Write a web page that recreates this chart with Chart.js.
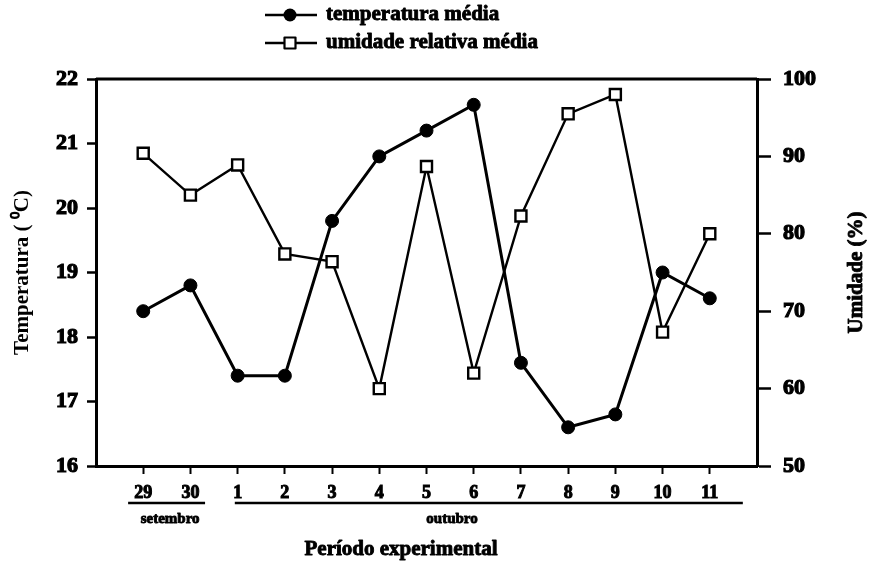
<!DOCTYPE html>
<html>
<head>
<meta charset="utf-8">
<script src="https://cdn.jsdelivr.net/npm/chart.js@4.4.1/dist/chart.umd.min.js"></script>
<style>
  html, body { margin: 0; padding: 0; background: #fff; }
  #wrap { width: 877px; height: 565px; }
</style>
</head>
<body>
<div id="wrap"><canvas id="grafico"></canvas></div>
<script>
// dias do período experimental (29-30 set, 1-11 out)
const dias = ['29', '30', '1', '2', '3', '4', '5', '6', '7', '8', '9', '10', '11'];
const temperatura = [18.4, 18.8, 17.4, 17.4, 19.8, 20.8, 21.2, 21.6, 17.6, 16.6, 16.8, 19.0, 18.6];
const umidade = [90.4, 85, 88.9, 77.4, 76.4, 60, 88.7, 62, 82.3, 95.5, 98, 67.3, 80];
const ticksTemp = [16, 17, 18, 19, 20, 21, 22];
const ticksUmid = [50, 60, 70, 80, 90, 100];

const serif = '"Liberation Serif", "Times New Roman", serif';
const fonte = (px) => 'bold ' + px + 'px ' + serif;

// texto em negrito reforçado (preenchimento + contorno fino)
function texto(ctx, s, x, y, contorno) {
  ctx.lineWidth = contorno;
  ctx.strokeText(s, x, y);
  ctx.fillText(s, x, y);
}

// legenda, título do eixo direito, meses e título do eixo x
const extras = {
  id: 'extras',
  afterDraw(chart) {
    const { ctx, chartArea: a, scales } = chart;
    const x = scales.x;
    ctx.save();
    ctx.strokeStyle = '#000';
    ctx.fillStyle = '#000';
    ctx.lineJoin = 'round';

    // borda superior
    ctx.lineWidth = 3;
    ctx.beginPath();
    ctx.moveTo(a.left, a.top);
    ctx.lineTo(a.right, a.top);
    ctx.stroke();

    // legenda
    const linhas = [
      { y: 15, txt: 'temperatura média', tipo: 'circulo' },
      { y: 43, txt: 'umidade relativa média', tipo: 'quadrado' }
    ];
    linhas.forEach(l => {
      ctx.lineWidth = 2.5;
      ctx.beginPath();
      ctx.moveTo(265, l.y);
      ctx.lineTo(317, l.y);
      ctx.stroke();
      if (l.tipo === 'circulo') {
        ctx.beginPath();
        ctx.arc(290, l.y, 6.5, 0, Math.PI * 2);
        ctx.fill();
      } else {
        ctx.fillStyle = '#fff';
        ctx.fillRect(284.5, l.y - 5.5, 11, 11);
        ctx.fillStyle = '#000';
        ctx.lineWidth = 2.2;
        ctx.strokeRect(284.5, l.y - 5.5, 11, 11);
      }
      ctx.font = fonte(21);
      ctx.textAlign = 'left';
      ctx.textBaseline = 'middle';
      texto(ctx, l.txt, 326, l.y, 0.9);
    });

    // título do eixo direito
    ctx.save();
    ctx.translate(857, (a.top + a.bottom) / 2);
    ctx.rotate(-Math.PI / 2);
    ctx.font = fonte(21);
    ctx.textAlign = 'center';
    ctx.textBaseline = 'middle';
    texto(ctx, 'Umidade (%)', 0, 0, 0.9);
    ctx.restore();

    // agrupamento por mês
    const meses = [
      { de: 0.68, ate: 2.31, meio: 1.57, nome: 'setembro' },
      { de: 2.94, ate: 13.7, meio: 7.54, nome: 'outubro' }
    ];
    meses.forEach(m => {
      ctx.lineWidth = 2.5;
      ctx.beginPath();
      ctx.moveTo(x.getPixelForValue(m.de), 503);
      ctx.lineTo(x.getPixelForValue(m.ate), 503);
      ctx.stroke();
      ctx.font = fonte(15);
      ctx.textAlign = 'center';
      ctx.textBaseline = 'middle';
      texto(ctx, m.nome, x.getPixelForValue(m.meio), 519, 0.9);
    });

    // título do eixo x
    ctx.font = fonte(21);
    texto(ctx, 'Período experimental', 401, 550, 0.9);
    ctx.restore();
  }
};

const fonteTicks = (px) => ({ family: serif, size: px, weight: 'bold' });

new Chart(document.getElementById('grafico'), {
  type: 'line',
  data: {
    datasets: [{
      label: 'temperatura média',
      data: temperatura.map((v, i) => ({ x: i + 1, y: v })),
      yAxisID: 'y',
      borderColor: '#000',
      backgroundColor: '#000',
      borderWidth: 3,
      pointStyle: 'circle',
      pointRadius: 6.5,
      pointBorderWidth: 1,
      tension: 0
    }, {
      label: 'umidade relativa média',
      data: umidade.map((v, i) => ({ x: i + 1, y: v })),
      yAxisID: 'y1',
      borderColor: '#000',
      backgroundColor: '#fff',
      borderWidth: 2.4,
      pointStyle: 'rect',
      pointRadius: 7.8,
      pointBorderWidth: 2.4,
      tension: 0
    }]
  },
  options: {
    responsive: true,
    maintainAspectRatio: false,
    animation: false,
    layout: { padding: { top: 79, left: 0, right: 0, bottom: 0 } },
    plugins: { legend: { display: false }, tooltip: { enabled: false } },
    scales: {
      x: {
        type: 'linear',
        min: 0,
        max: 14,
        afterBuildTicks: s => { s.ticks = dias.map((d, i) => ({ value: i + 1 })); },
        afterFit: s => { s.height = 99; },
        ticks: {
          callback: v => dias[v - 1] || '',
          color: '#000',
          textStrokeColor: '#000',
          textStrokeWidth: 1,
          font: fonteTicks(18),
          padding: 9,
          maxRotation: 0,
          autoSkip: false
        },
        grid: { drawOnChartArea: false, drawTicks: true, tickLength: 8, tickWidth: 2, tickColor: '#000' },
        border: { display: true, color: '#000', width: 3 }
      },
      y: {
        position: 'left',
        min: 16,
        max: 22,
        afterBuildTicks: s => { s.ticks = ticksTemp.map(v => ({ value: v })); },
        afterFit: s => { s.width = 96; },
        ticks: {
          color: '#000',
          textStrokeColor: '#000',
          textStrokeWidth: 1.2,
          font: fonteTicks(22),
          padding: 9
        },
        grid: { drawOnChartArea: false, drawTicks: true, tickLength: 9, tickWidth: 2.5, tickColor: '#000' },
        border: { display: true, color: '#000', width: 3 },
        title: {
          display: true,
          text: 'Temperatura ( ⁰C)',
          color: '#000',
          font: fonteTicks(21),
          padding: { top: 10, bottom: 0 }
        }
      },
      y1: {
        position: 'right',
        min: 50,
        max: 100,
        afterBuildTicks: s => { s.ticks = ticksUmid.map(v => ({ value: v })); },
        afterFit: s => { s.width = 120; },
        ticks: {
          color: '#000',
          textStrokeColor: '#000',
          textStrokeWidth: 1.2,
          font: fonteTicks(22),
          padding: 12
        },
        grid: { drawOnChartArea: false, drawTicks: true, tickLength: 14, tickWidth: 2.5, tickColor: '#000' },
        border: { display: true, color: '#000', width: 3 }
      }
    }
  },
  plugins: [extras]
});
</script>
</body>
</html>
